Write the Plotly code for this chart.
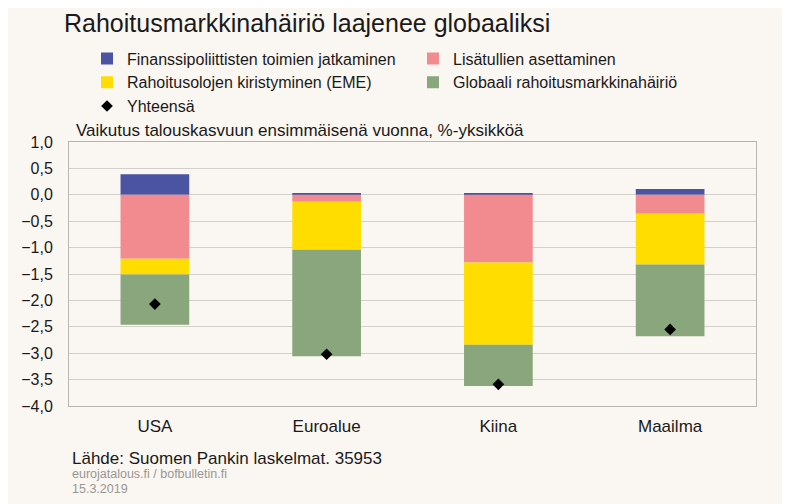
import plotly.graph_objects as go

categories = ["USA", "Euroalue", "Kiina", "Maailma"]
finanssi = [0.39, 0.03, 0.03, 0.11]
lisatullit = [-1.21, -0.13, -1.28, -0.36]
rahoitusolot = [-0.30, -0.91, -1.56, -0.96]
globaali = [-0.95, -2.02, -0.78, -1.36]
yhteensa = [-2.07, -3.02, -3.59, -2.55]

y_ticks = [1.0, 0.5, 0.0, -0.5, -1.0, -1.5, -2.0, -2.5, -3.0, -3.5, -4.0]

FONT = "Liberation Sans, Arial, sans-serif"
BG = "#faf6f1"
TXT = "#1a1a1a"

# page body has an 8px margin: figure coords = screen coords - 8
OFF = 8
W, H = 782, 496
L = 69 - OFF
T = 142 - OFF
R = W - (756 - OFF)
B = H - (406 - OFF)
pw = W - L - R
ph = H - T - B


def px(x):
    return (x - OFF - L) / pw


def py(y):
    return (H - B - (y - OFF)) / ph


fig = go.Figure()
fig.add_trace(go.Bar(x=categories, y=finanssi, name="Finanssipoliittisten toimien jatkaminen",
                     marker=dict(color="#4b53a3", line=dict(width=0)), legend="legend"))
fig.add_trace(go.Bar(x=categories, y=lisatullit, name="Lisätullien asettaminen",
                     marker=dict(color="#f28b8f", line=dict(width=0)), legend="legend2"))
fig.add_trace(go.Bar(x=categories, y=rahoitusolot, name="Rahoitusolojen kiristyminen (EME)",
                     marker=dict(color="#ffdd00", line=dict(width=0)), legend="legend"))
fig.add_trace(go.Bar(x=categories, y=globaali, name="Globaali rahoitusmarkkinahäiriö",
                     marker=dict(color="#8aa67c", line=dict(width=0)), legend="legend2"))
fig.add_trace(go.Scatter(x=categories, y=yhteensa, name="Yhteensä", mode="markers",
                         marker=dict(symbol="diamond", size=9, color="black"), legend="legend"))

legend_common = dict(
    font=dict(family=FONT, size=16, color=TXT),
    bgcolor="rgba(0,0,0,0)", borderwidth=0,
    orientation="v", xanchor="left", yanchor="top",
    itemwidth=30, tracegroupgap=0, traceorder="normal",
)

fig.update_layout(
    width=W, height=H,
    margin=dict(l=L, r=R, t=T, b=B),
    paper_bgcolor=BG, plot_bgcolor=BG,
    barmode="relative", bargap=0.6,
    separators=", ",
    font=dict(family=FONT, size=16, color=TXT),
    title=dict(text="Rahoitusmarkkinahäiriö laajenee globaaliksi",
               x=(64 - OFF) / W, xref="container", xanchor="left",
               y=1 - (23 - OFF) / H, yref="container", yanchor="middle",
               font=dict(family=FONT, size=25, color=TXT)),
    legend=dict(x=px(127 - 40), y=py(59 - 17.5), **legend_common),
    legend2=dict(x=px(453 - 40), y=py(59 - 17.5), **legend_common),
    xaxis=dict(type="category", range=[-0.5, 3.5], showgrid=False,
               showline=True, mirror=True, linecolor="#b8b4af", linewidth=1,
               ticks="", ticklabelstandoff=5,
               tickfont=dict(size=17, color=TXT), fixedrange=True),
    yaxis=dict(range=[-4, 1], tickvals=y_ticks, tickformat=".1f",
               showgrid=True, gridcolor="#d3cfca", gridwidth=1, zeroline=False,
               showline=True, mirror=True, linecolor="#b8b4af", linewidth=1,
               ticks="", ticklabelstandoff=12,
               tickfont=dict(size=16, color=TXT), fixedrange=True),
    showlegend=True,
)

fig.add_annotation(text="Vaikutus talouskasvuun ensimmäisenä vuonna, %-yksikköä",
                   xref="paper", yref="paper", x=px(74), y=py(130),
                   xanchor="left", yanchor="middle", showarrow=False,
                   font=dict(family=FONT, size=17, color=TXT))
fig.add_annotation(text="Lähde: Suomen Pankin laskelmat. 35953",
                   xref="paper", yref="paper", x=px(70), y=py(458),
                   xanchor="left", yanchor="middle", showarrow=False,
                   font=dict(family=FONT, size=17, color=TXT))
fig.add_annotation(text="eurojatalous.fi / bofbulletin.fi",
                   xref="paper", yref="paper", x=px(70), y=py(474),
                   xanchor="left", yanchor="middle", showarrow=False,
                   font=dict(family=FONT, size=12.5, color="#9a9692"))
fig.add_annotation(text="15.3.2019",
                   xref="paper", yref="paper", x=px(70), y=py(489),
                   xanchor="left", yanchor="middle", showarrow=False,
                   font=dict(family=FONT, size=12.5, color="#9a9692"))

fig.write_html("out.html")
